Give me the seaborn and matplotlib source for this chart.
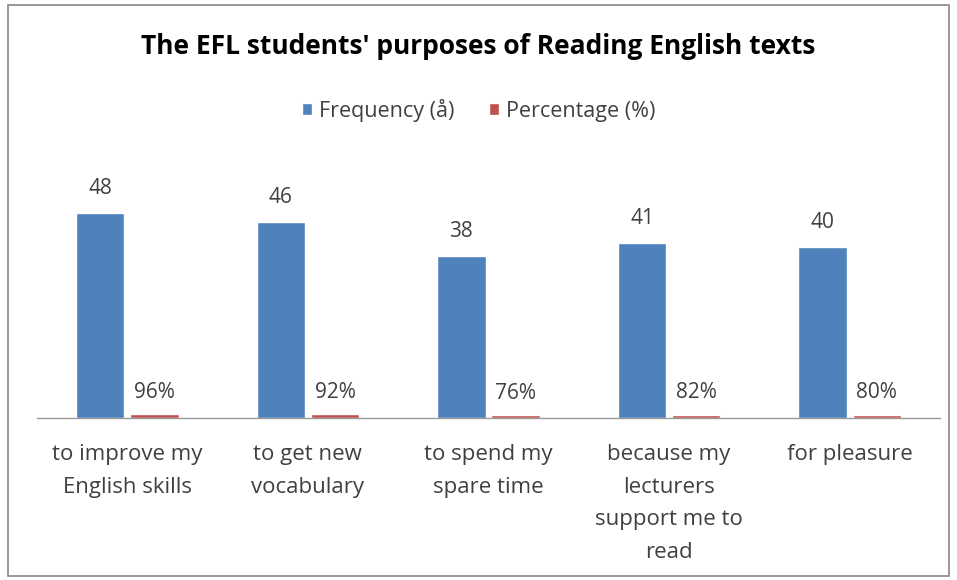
import matplotlib
matplotlib.use("Agg")
import matplotlib.pyplot as plt
import seaborn as sns
import pandas as pd
from matplotlib.patches import Rectangle

categories = ["to improve my\nEnglish skills", "to get new\nvocabulary", "to spend my\nspare time",
              "because my\nlecturers\nsupport me to\nread", "for pleasure"]
frequency = [48, 46, 38, 41, 40]
percentage = [0.96, 0.92, 0.76, 0.82, 0.80]
series = ["Frequency (å)", "Percentage (%)"]
colors = ["#4F81BD", "#C0504D"]

df = pd.DataFrame({
    "cat": categories * 2,
    "val": frequency + percentage,
    "series": [series[0]] * 5 + [series[1]] * 5,
})

sns.set_theme(style="white")
plt.rcParams["font.family"] = ["Open Sans", "DejaVu Sans"]

fig = plt.figure(figsize=(9.57, 5.8), dpi=100)
ax = fig.add_axes([37 / 957, 1 - 418 / 580, 903 / 957, 256 / 580])

sns.barplot(data=df, x="cat", y="val", hue="series", palette=colors, ax=ax,
            width=0.6, gap=0.11, saturation=1, legend=True)

ax.set_ylim(0, 60)
ax.set_xlim(-0.5, 4.5)
for c, lab, pad in zip(ax.containers,
                       [[str(v) for v in frequency], [f"{int(round(p*100))}%" for p in percentage]],
                       [10, 8]):
    ax.bar_label(c, labels=lab, padding=pad, fontsize=15, color="#404040")

ax.set_xlabel("")
ax.set_ylabel("")
ax.set_yticks([])
for s in ["top", "right", "left"]:
    ax.spines[s].set_visible(False)
ax.spines["bottom"].set_color("#999999")
ax.spines["bottom"].set_linewidth(1)
ax.tick_params(axis="x", length=0, pad=19, labelsize=16, labelcolor="#404040")
for t in ax.get_xticklabels():
    t.set_linespacing(1.72)

leg = ax.legend(loc="center", bbox_to_anchor=(0.5, 1 - 110 / 580), bbox_transform=fig.transFigure,
                ncol=2, frameon=False, fontsize=15.5, handlelength=0.5, handleheight=0.5,
                handletextpad=0.3, columnspacing=1.6)
for t in leg.get_texts():
    t.set_color("#404040")

fig.text(0.5, 1 - 47 / 580, "The EFL students' purposes of Reading English texts",
         ha="center", va="center", fontsize=19, fontweight="bold", color="#000000")

fig.patches.append(Rectangle((8 / 957, 4 / 580), 941 / 957, 571 / 580, transform=fig.transFigure,
                             fill=False, edgecolor="#888888", linewidth=1.2))

fig.savefig("out.png", dpi=100)
